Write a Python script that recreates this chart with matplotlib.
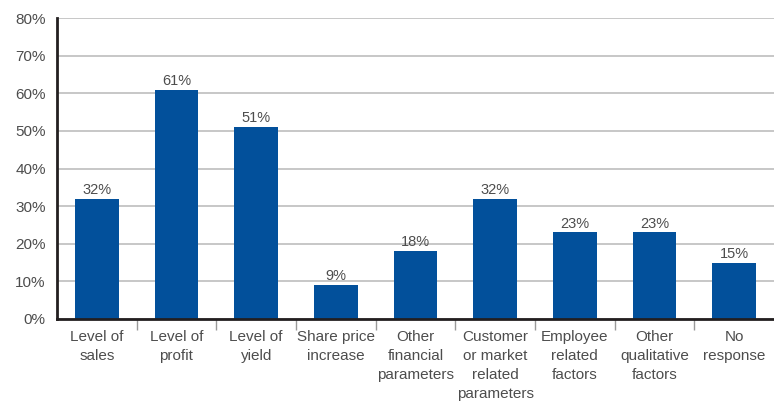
import matplotlib.pyplot as plt
import numpy as np

categories = ['Level of\nsales', 'Level of\nprofit', 'Level of\nyield',
              'Share price\nincrease', 'Other\nfinancial\nparameters',
              'Customer\nor market\nrelated\nparameters', 'Employee\nrelated\nfactors',
              'Other\nqualitative\nfactors', 'No\nresponse']
values = [32, 61, 51, 9, 18, 32, 23, 23, 15]
yticks = [0, 10, 20, 30, 40, 50, 60, 70, 80]

plt.rcParams['font.family'] = ['Liberation Sans', 'DejaVu Sans']
txt = '#4d4d4d'

fig = plt.figure(figsize=(7.74, 4.01), dpi=100)
ax = fig.add_axes([0.0736, 0.2045, 0.9264, 0.7505])

x = np.arange(len(values))
ax.bar(x, values, width=0.55, color='#02509b', zorder=3)
for xi, v in zip(x, values):
    ax.text(xi, v + 0.5, f'{v}%', ha='center', va='bottom', fontsize=10.5, color=txt)

ax.set_xlim(-0.5, len(values) - 0.5)
ax.set_ylim(0, 80)
ax.set_yticks(yticks)
ax.set_yticklabels([f'{t}%' for t in yticks], fontsize=11, color=txt)
ax.yaxis.grid(True, color='#bdbdbd', linewidth=1.2, zorder=0)
ax.tick_params(axis='y', length=0, pad=8)

ax.set_xticks(x)
ax.set_xticklabels(categories, fontsize=11, color=txt, linespacing=1.45)
ax.set_xticks(np.arange(0.5, len(values) - 1, 1), minor=True)
ax.tick_params(axis='x', which='major', length=0, pad=8)
ax.tick_params(axis='x', which='minor', length=8, width=1, color='#999999', direction='out')

for s in ['top', 'right']:
    ax.spines[s].set_visible(False)
for s in ['left', 'bottom']:
    ax.spines[s].set_linewidth(2)
    ax.spines[s].set_color('#231f20')
    ax.spines[s].set_zorder(4)

fig.savefig('out.png', dpi=100)
